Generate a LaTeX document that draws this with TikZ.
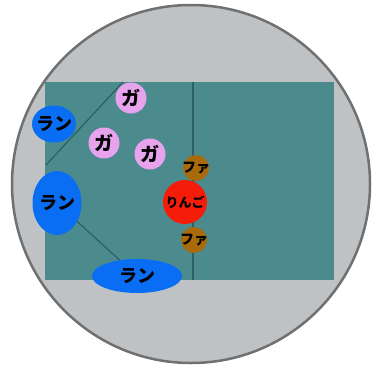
\documentclass[tikz,border=0pt]{standalone}
\usepackage{fontspec}
\setmainfont{Noto Sans CJK JP}
\usetikzlibrary{shapes.geometric}
\definecolor{rimgray}{HTML}{707070}
\definecolor{groundgray}{HTML}{BFC2C4}
\definecolor{fieldteal}{HTML}{4B8A8D}
\definecolor{lineteal}{HTML}{2E5F61}
\definecolor{ranblue}{HTML}{0A6EF5}
\definecolor{gapink}{HTML}{E8A3EE}
\definecolor{fabrown}{HTML}{A86A0A}
\definecolor{ringored}{HTML}{F51C0A}
\begin{document}
\begin{tikzpicture}[x=1pt,y=-1pt,
    player/.style={inner sep=0pt, text=black, font=\bfseries},
    ran/.style={player, ellipse, inner xsep=-4pt, inner ysep=-4pt, fill=ranblue, font=\fontsize{18}{18}\selectfont\bfseries},
    ga/.style={player, circle, fill=gapink, minimum size=31pt, font=\fontsize{19}{19}\selectfont\bfseries},
    fa/.style={player, circle, inner sep=-2pt, fill=fabrown, minimum size=26pt, font=\fontsize{14}{14}\selectfont\bfseries},
    fieldline/.style={draw=lineteal, line width=1.2pt}]
  \useasboundingbox (0,0) rectangle (374,372);
  % ground and field
  \draw[line width=2.5pt, draw=rimgray, fill=groundgray] (191,184) circle [radius=179pt];
  \fill[fieldteal] (45,82) rectangle (334,280);
  \draw[fieldline] (193,82) -- (193,280);
  \draw[fieldline] (123,82) -- (46,165);
  % players
  \node[ran, minimum width=44pt, minimum height=37pt] (rantop) at (54,124) {ラン};
  \node[ran, minimum width=49pt, minimum height=64pt] (ranmid) at (57,203) {ラン};
  \node[ran, minimum width=90pt, minimum height=34pt] (ranbot) at (137,276) {ラン};
  \draw[fieldline] (ranmid) -- (ranbot);
  \node[ga] (gatop) at (131,98) {ガ};
  \node[ga] (galeft) at (104,143) {ガ};
  \node[ga] (garight) at (150,154) {ガ};
  \node[fa] (fatop) at (196,168) {ファ};
  \node[player, circle, inner sep=-3pt, fill=ringored, minimum size=44pt, font=\fontsize{13}{13}\selectfont\bfseries] (ringo) at (185,202) {りんご};
  \node[fa] (fabot) at (194,240) {ファ};
\end{tikzpicture}
\end{document}
